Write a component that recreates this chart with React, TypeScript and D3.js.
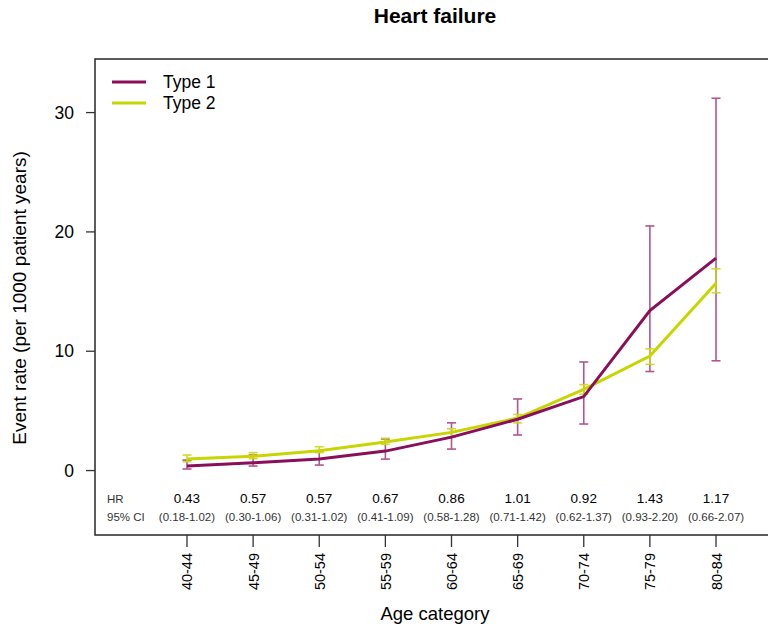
import React from "react";
import * as d3 from "d3";

const categories = ["40-44", "45-49", "50-54", "55-59", "60-64", "65-69", "70-74", "75-79", "80-84"];
const type1 = [0.38, 0.65, 0.96, 1.63, 2.8, 4.3, 6.2, 13.4, 17.8];
const type1Low = [0.13, 0.38, 0.46, 0.96, 1.8, 2.98, 3.9, 8.3, 9.2];
const type1High = [0.88, 1.3, 1.66, 2.65, 4.0, 6.0, 9.1, 20.5, 31.2];
const type2 = [0.96, 1.2, 1.66, 2.4, 3.2, 4.4, 6.8, 9.6, 15.7];
const type2Low = [0.74, 1.0, 1.5, 2.2, 2.8, 4.0, 6.4, 8.9, 14.9];
const type2High = [1.3, 1.5, 2.0, 2.7, 3.5, 4.7, 7.2, 10.2, 16.9];
const hrValues = ["0.43", "0.57", "0.57", "0.67", "0.86", "1.01", "0.92", "1.43", "1.17"];
const ciValues = ["(0.18-1.02)", "(0.30-1.06)", "(0.31-1.02)", "(0.41-1.09)", "(0.58-1.28)", "(0.71-1.42)", "(0.62-1.37)", "(0.93-2.20)", "(0.66-2.07)"];
const yTicks = [0, 10, 20, 30];

const C1 = "#8a0f5a";
const C1bar = "#a8447f";
const C2 = "#c6d600";
const C2bar = "#ccd81a";
const FONT = "Liberation Sans, Arial, sans-serif";

export default function App() {
  const W = 768, H = 630;
  const left = 95, top = 59, right = 808, bottom = 535;
  const x = d3.scaleLinear().domain([-0.391, 10.391]).range([left, right]);
  const y = d3.scaleLinear().domain([-5.4, 34.49]).range([bottom, top]);
  const idx = categories.map((_, i) => i + 1);
  const line = d3.line<number>().x((_, i) => x(idx[i])).y((d) => y(d));

  const bars = (lo: number[], hi: number[], color: string) =>
    lo.map((l, i) => {
      const cx = x(idx[i]);
      return (
        <g key={i} stroke={color} strokeWidth={1.6} opacity={0.9}>
          <line x1={cx} x2={cx} y1={y(l)} y2={y(hi[i])} />
          <line x1={cx - 4.5} x2={cx + 4.5} y1={y(l)} y2={y(l)} />
          <line x1={cx - 4.5} x2={cx + 4.5} y1={y(hi[i])} y2={y(hi[i])} />
        </g>
      );
    });

  return (
    <svg width={W} height={H} style={{ position: "absolute", left: 0, top: 0 }} fontFamily={FONT}>
      <rect width={W} height={H} fill="white" />
      <text x={435} y={23} textAnchor="middle" fontWeight="bold" fontSize={21}>Heart failure</text>
      {/* box */}
      <rect x={left} y={top} width={right - left} height={bottom - top} fill="none" stroke="#333" strokeWidth={1.6} />
      {/* y axis */}
      {yTicks.map((t) => (
        <g key={t}>
          <line x1={86} x2={left} y1={y(t)} y2={y(t)} stroke="#333" strokeWidth={1.3} />
          <text x={74} y={y(t) + 6} textAnchor="end" fontSize={17.5}>{t}</text>
        </g>
      ))}
      <text transform={`translate(26,${298}) rotate(-90)`} textAnchor="middle" fontSize={19}>Event rate (per 1000 patient years)</text>
      {/* x axis */}
      {categories.map((c, i) => (
        <g key={c}>
          <line x1={x(idx[i])} x2={x(idx[i])} y1={bottom} y2={bottom + 12} stroke="#333" strokeWidth={1.3} />
          <text transform={`translate(${x(idx[i]) + 5.5},${553}) rotate(-90)`} textAnchor="end" fontSize={14.5}>{c}</text>
        </g>
      ))}
      <text x={435} y={620} textAnchor="middle" fontSize={18.5}>Age category</text>
      {/* error bars */}
      {bars(type1Low, type1High, C1bar)}
      {bars(type2Low, type2High, C2bar)}
      {/* lines */}
      <path d={line(type2) || ""} fill="none" stroke={C2} strokeWidth={3} />
      <path d={line(type1) || ""} fill="none" stroke={C1} strokeWidth={3} />
      {/* HR rows */}
      <text x={107} y={503} fontSize={11.5} fill="#333">HR</text>
      <text x={107} y={521} fontSize={11.5} fill="#333">95% CI</text>
      {categories.map((c, i) => (
        <g key={"hr" + c}>
          <text x={x(idx[i])} y={503} textAnchor="middle" fontSize={13.5}>{hrValues[i]}</text>
          <text x={x(idx[i])} y={521} textAnchor="middle" fontSize={11.5} fill="#333">{ciValues[i]}</text>
        </g>
      ))}
      {/* legend */}
      <line x1={112} x2={146} y1={82} y2={82} stroke={C1} strokeWidth={3} />
      <line x1={112} x2={146} y1={103} y2={103} stroke={C2} strokeWidth={3} />
      <text x={163} y={88} fontSize={17.5}>Type 1</text>
      <text x={163} y={109} fontSize={17.5}>Type 2</text>
    </svg>
  );
}
